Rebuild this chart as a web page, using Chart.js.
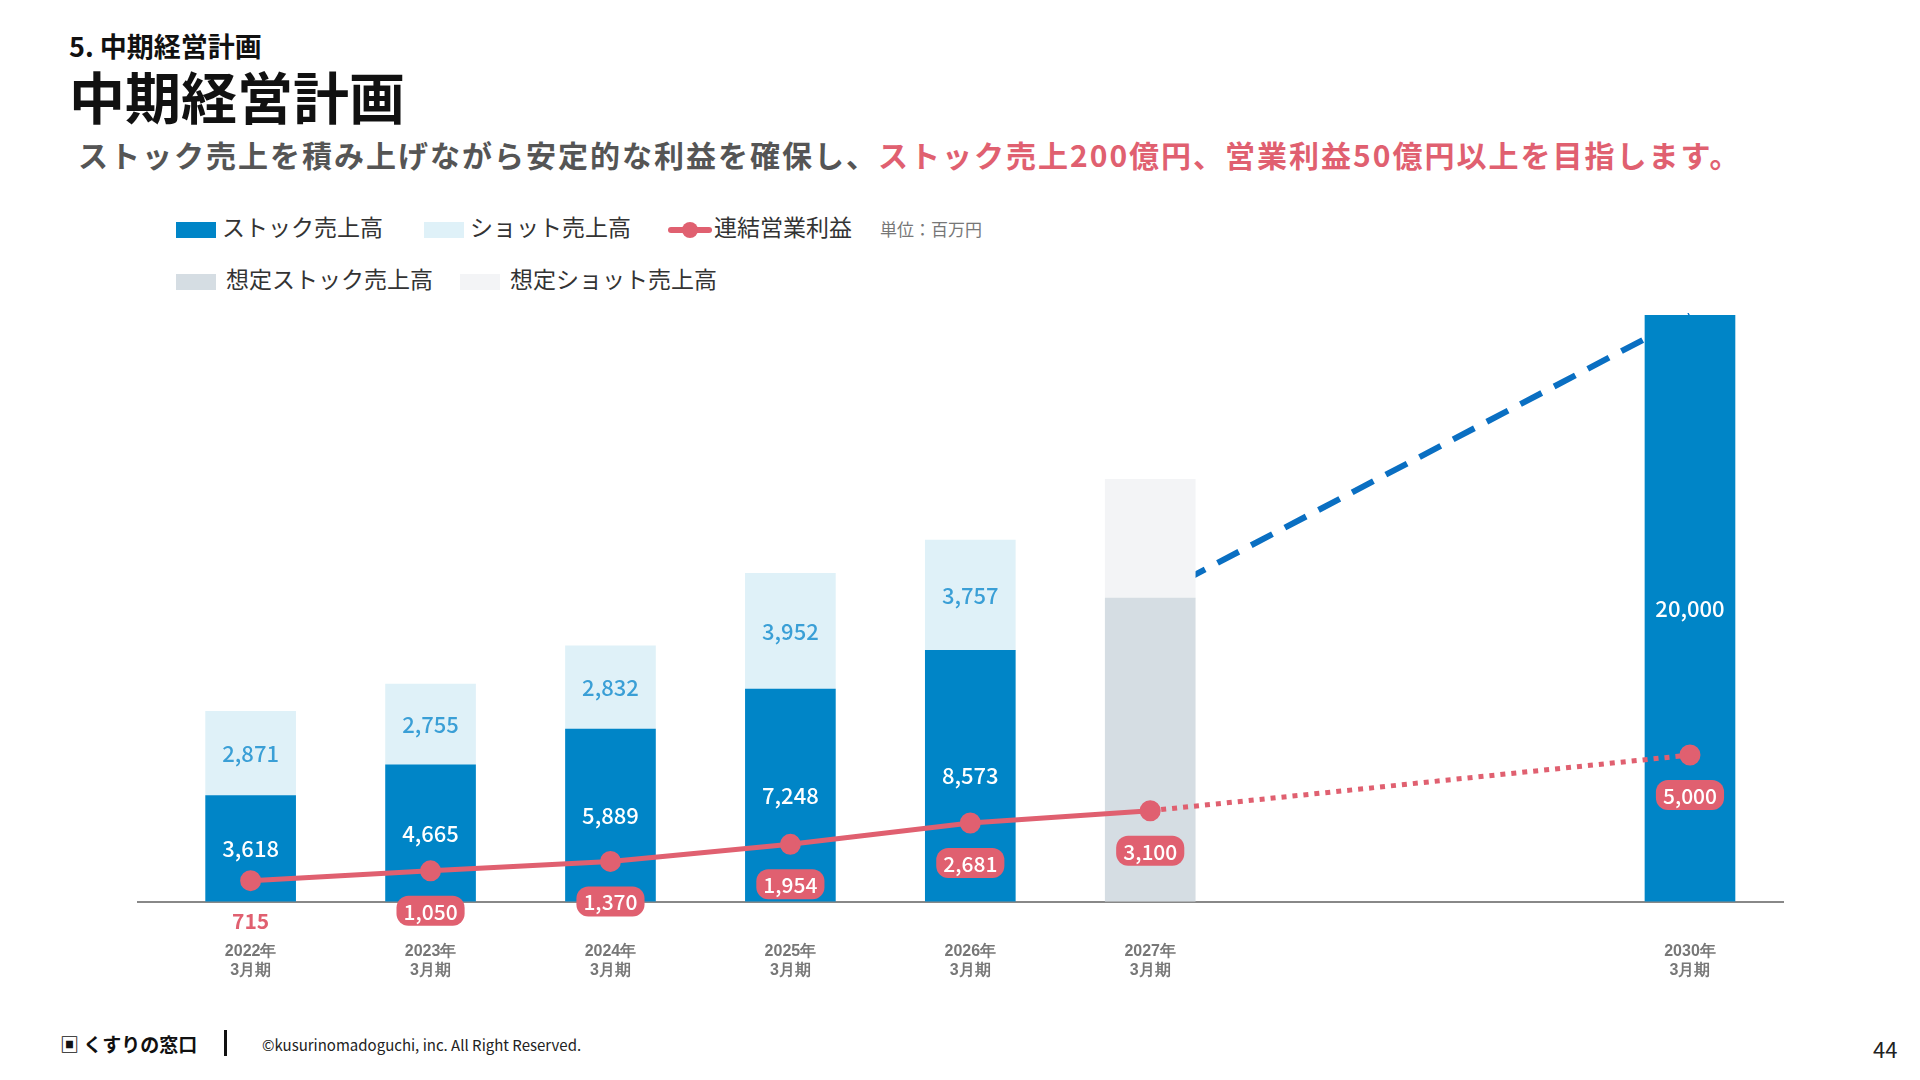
<!DOCTYPE html>
<html><head><meta charset="utf-8">
<script src="https://cdn.jsdelivr.net/npm/chart.js@4/dist/chart.umd.min.js"></script>
<style>
body{margin:0;width:1920px;height:1080px;background:#fff;font-family:"Noto Sans CJK JP","Noto Sans",sans-serif;position:relative;overflow:hidden}
.abs{position:absolute;white-space:nowrap}
.sw{display:inline-block;width:40px;height:16px;vertical-align:middle;margin-right:6px}
.lg{font-size:23px;color:#333}
</style></head><body>
<div class="abs" style="left:69px;top:26px;font-size:27px;font-weight:700;color:#111">5. 中期経営計画</div>
<div class="abs" style="left:69px;top:54px;font-size:56px;font-weight:700;color:#111">中期経営計画</div>
<div class="abs" style="left:78px;top:132px;font-size:30px;font-weight:700;color:#555;letter-spacing:2px">ストック売上を積み上げながら安定的な利益を確保し、<span style="color:#e06070">ストック売上200億円、営業利益50億円以上を目指します。</span></div>
<div class="abs lg" style="left:176px;top:209px"><span class="sw" style="background:#0085c7"></span>ストック売上高</div>
<div class="abs lg" style="left:424px;top:209px"><span class="sw" style="background:#dff1f8"></span>ショット売上高</div>
<div class="abs lg" style="left:668px;top:209px"><span style="display:inline-block;position:relative;width:44px;height:16px;vertical-align:middle;margin-right:2px"><span style="position:absolute;left:0;top:5px;width:44px;height:6px;background:#e06070;border-radius:3px"></span><span style="position:absolute;left:14px;top:0;width:16px;height:16px;background:#e06070;border-radius:8px"></span></span>連結営業利益<span style="font-size:17px;color:#777;margin-left:28px">単位：百万円</span></div>
<div class="abs lg" style="left:176px;top:261px"><span class="sw" style="background:#d5dde3;margin-right:10px"></span>想定ストック売上高</div>
<div class="abs lg" style="left:460px;top:261px"><span class="sw" style="background:#f3f4f6;margin-right:10px"></span>想定ショット売上高</div>
<div class="abs" style="left:0;top:300px;width:1920px;height:720px"><canvas id="c"></canvas></div>
<div class="abs" style="left:60px;top:1030px;font-size:19px;font-weight:700;color:#111">▣ くすりの窓口</div>
<div class="abs" style="left:224px;top:1030px;width:3px;height:26px;background:#111"></div>
<div class="abs" style="left:262px;top:1034px;font-size:15px;color:#222">©kusurinomadoguchi, inc. All Right Reserved.</div>
<div class="abs" style="left:1873px;top:1032px;font-size:22px;color:#222">44</div>
<script>
const years = [2022, 2023, 2024, 2025, 2026, 2027, 2030];
const stockSales = [3618, 4665, 5889, 7248, 8573, null, 20000];
const shotSales = [2871, 2755, 2832, 3952, 3757, null, null];
const planStock = [null, null, null, null, null, 10350, null];
const planShot = [null, null, null, null, null, 4050, null];
const profit = [715, 1050, 1370, 1954, 2681, 3100, 5000];
const trendLine = [null, null, null, null, null, 10350, 20000];
const tickLabels = {2022:['2022年','3月期'],2023:['2023年','3月期'],2024:['2024年','3月期'],2025:['2025年','3月期'],2026:['2026年','3月期'],2027:['2027年','3月期'],2030:['2030年','3月期']};

const pts = arr => years.map((x, i) => ({x: x, y: arr[i]}));
const RED = '#e06070';

const labelPlugin = {
    id: 'labels',
    afterDraw(chart) {
        const ctx = chart.ctx;
        ctx.save();
        ctx.textAlign = 'center';
        ctx.textBaseline = 'middle';
        ctx.font = '500 22px "Noto Sans CJK JP"';
        [[0, '#fff'], [1, '#3a9fd6']].forEach(([di, col]) => {
            chart.getDatasetMeta(di).data.forEach((el, i) => {
                const v = chart.data.datasets[di].data[i].y;
                if (v == null) return;
                ctx.fillStyle = col;
                ctx.fillText(v.toLocaleString('en-US'), el.x, (el.y + el.base) / 2);
            });
        });
        // profit labels
        chart.getDatasetMeta(4).data.forEach((el, i) => {
            const txt = profit[i].toLocaleString('en-US');
            const y = el.y + 40;
            if (i === 0) {
                ctx.fillStyle = RED;
                ctx.font = '700 21px "Noto Sans CJK JP"';
                ctx.fillText(txt, el.x, y);
                return;
            }
            ctx.font = '500 21px "Noto Sans CJK JP"';
            const w = ctx.measureText(txt).width + 14;
            ctx.fillStyle = RED;
            ctx.beginPath();
            ctx.roundRect(el.x - w / 2, y - 15, w, 30, 12);
            ctx.fill();
            ctx.fillStyle = '#fff';
            ctx.fillText(txt, el.x, y + 1);
        });
        ctx.restore();
    }
};

new Chart(document.getElementById('c').getContext('2d'), {
    type: 'bar',
    data: {
        datasets: [
            {label: 'ストック売上高', data: pts(stockSales), backgroundColor: '#0085c7', stack: 's', order: 2},
            {label: 'ショット売上高', data: pts(shotSales), backgroundColor: '#dff1f8', stack: 's', order: 2},
            {label: '想定ストック売上高', data: pts(planStock), backgroundColor: '#d5dde3', stack: 's', order: 2},
            {label: '想定ショット売上高', data: pts(planShot), backgroundColor: '#f3f4f6', stack: 's', order: 2},
            {
                type: 'line', label: '連結営業利益', data: pts(profit), borderColor: RED, backgroundColor: RED,
                borderWidth: 5, pointRadius: 8, pointHoverRadius: 8, order: 0, stack: 'p',
                segment: {borderDash: c => c.p0DataIndex >= 5 ? [5, 6] : undefined}
            },
            {
                type: 'line', data: pts(trendLine), borderColor: '#0a6fc2', borderWidth: 6, borderDash: [24, 14],
                pointRadius: 0, spanGaps: true, order: 5, stack: 't'
            }
        ]
    },
    options: {
        responsive: true,
        maintainAspectRatio: false,
        animation: false,
        barThickness: 90,
        layout: {padding: {left: 138, right: 137, top: 0}},
        plugins: {legend: {display: false}, tooltip: {enabled: false}},
        scales: {
            x: {
                type: 'linear', min: 2021.374, max: 2030.517, offset: false,
                afterBuildTicks: s => { s.ticks = years.map(v => ({value: v})); },
                ticks: {autoSkip: false, maxRotation: 0, color: '#777', font: {size: 16, weight: '700'},
                    padding: 40, callback: v => tickLabels[v] || ''},
                grid: {display: false, drawTicks: false, offset: false},
                border: {color: '#888', width: 2}
            },
            y: {
                display: false, stacked: true, min: 0, max: 20078,
                beginAtZero: true
            }
        }
    },
    plugins: [labelPlugin]
});
</script>
</body></html>
